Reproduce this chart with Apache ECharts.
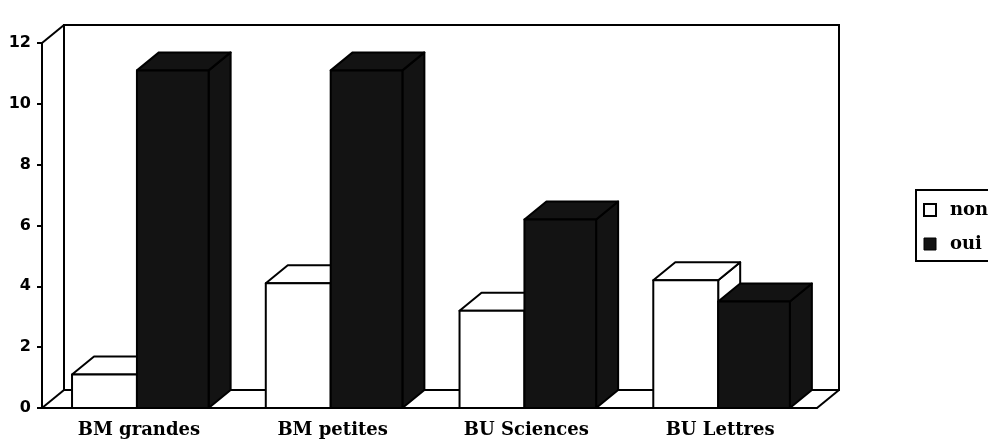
<!DOCTYPE html>
<html>
<head>
<meta charset="utf-8">
<title>BM / BU</title>
<script src="https://cdn.jsdelivr.net/npm/echarts@6/dist/echarts.min.js"></script>
</head>
<body style="margin:0;background:#fff">
<div id="main" style="width:988px;height:442px"></div>
<script>
var categories = ['BM grandes', 'BM petites', 'BU Sciences', 'BU Lettres'];
var nonValues = [1.1, 4.1, 3.2, 4.2];
var ouiValues = [11.1, 11.1, 6.2, 3.5];
var seriesNames = ['non', 'oui'];

// fake depth of the 3D box
var DX = 22, DY = -18;
var INK = '#000';
var DARK = '#131313';

function barRender(from, to, fill) {
  return function (params, api) {
    var i = api.value(0);
    var base = api.coord([i, 0]);
    var top = api.coord([i, api.value(1)]);
    var band = api.size([1, 0])[0];
    var left = base[0] - band / 2;
    var x0 = left + band * from, x1 = left + band * to;
    var y0 = base[1], y1 = top[1];
    var st = { fill: fill, stroke: INK, lineWidth: 2, lineJoin: 'round' };
    return {
      type: 'group',
      children: [
        { type: 'polygon', shape: { points: [[x1, y0], [x1 + DX, y0 + DY], [x1 + DX, y1 + DY], [x1, y1]] }, style: st },
        { type: 'polygon', shape: { points: [[x0, y1], [x0 + DX, y1 + DY], [x1 + DX, y1 + DY], [x1, y1]] }, style: st },
        { type: 'rect', shape: { x: x0, y: y1, width: x1 - x0, height: y0 - y1 }, style: st }
      ]
    };
  };
}

function frameRender(params, api) {
  var cs = params.coordSys;
  var x = cs.x, y = cs.y, r = cs.x + cs.width, b = cs.y + cs.height;
  var st = { fill: 'none', stroke: INK, lineWidth: 2 };
  return {
    type: 'group',
    children: [
      { type: 'polygon', shape: { points: [[x + DX, y + DY], [r + DX, y + DY], [r + DX, b + DY], [x + DX, b + DY]] }, style: { fill: '#fff', stroke: INK, lineWidth: 2 } },
      { type: 'polyline', shape: { points: [[x, y], [x + DX, y + DY]] }, style: st },
      { type: 'polyline', shape: { points: [[x, b], [x + DX, b + DY]] }, style: st },
      { type: 'polyline', shape: { points: [[r, b], [r + DX, b + DY]] }, style: st }
    ]
  };
}

var chart = echarts.init(document.getElementById('main'));
chart.setOption({
  backgroundColor: '#fff',
  animation: false,
  grid: { left: 42, right: 171, top: 43, bottom: 34 },
  legend: {
    orient: 'vertical',
    left: 916,
    top: 190,
    padding: [11, 40, 8, 7],
    itemGap: 16,
    itemWidth: 12,
    itemHeight: 12,
    backgroundColor: '#fff',
    borderColor: INK,
    borderWidth: 2,
    textStyle: { fontFamily: 'DejaVu Serif', fontWeight: 'bold', fontSize: 18, color: INK, padding: [0, 0, 0, 9] },
    data: [
      { name: 'non', icon: 'rect', itemStyle: { color: '#fff', borderColor: INK, borderWidth: 2 } },
      { name: 'oui', icon: 'rect', itemStyle: { color: DARK, borderColor: INK, borderWidth: 1 } }
    ]
  },
  xAxis: {
    type: 'category',
    data: categories,
    axisLine: { lineStyle: { color: INK, width: 2 } },
    axisTick: { length: 7, lineStyle: { color: INK, width: 2 } },
    axisLabel: { margin: 13, color: INK, fontFamily: 'DejaVu Serif', fontWeight: 'bold', fontSize: 18 }
  },
  yAxis: {
    type: 'value',
    min: 0,
    max: 12,
    interval: 2,
    splitLine: { show: false },
    axisLine: { show: true, lineStyle: { color: INK, width: 2 } },
    axisTick: { show: true, length: 5, lineStyle: { color: INK, width: 2 } },
    axisLabel: { margin: 11, color: INK, fontFamily: 'DejaVu Sans', fontWeight: 'bold', fontSize: 16 }
  },
  series: [
    { name: 'frame', type: 'custom', silent: true, z: 1, renderItem: frameRender, data: [[0, 0]] },
    {
      name: seriesNames[0], type: 'custom', z: 3, renderItem: barRender(0.155, 0.49, '#fff'),
      itemStyle: { color: '#fff' },
      data: nonValues.map(function (v, i) { return [i, v]; })
    },
    {
      name: seriesNames[1], type: 'custom', z: 4, renderItem: barRender(0.49, 0.86, DARK),
      itemStyle: { color: DARK },
      data: ouiValues.map(function (v, i) { return [i, v]; })
    }
  ]
});
</script>
</body>
</html>
